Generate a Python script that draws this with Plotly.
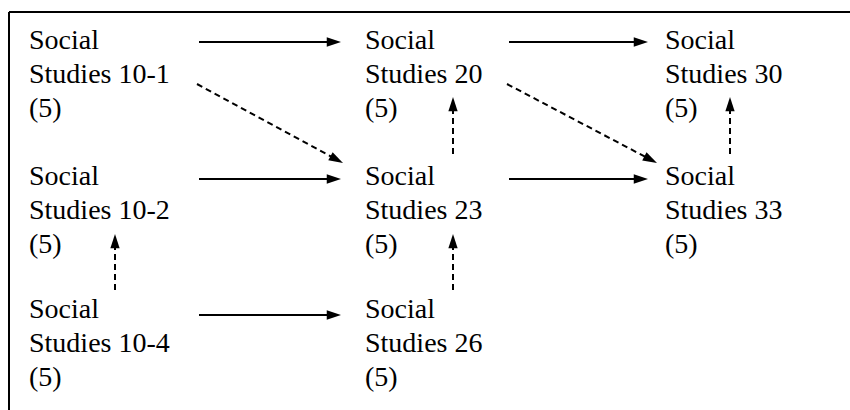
import plotly.graph_objects as go

# ---- data -------------------------------------------------------------
subject = "Social Studies"
course_codes = ["10-1", "10-2", "10-4", "20", "23", "26", "30", "33"]
course_credits = [5, 5, 5, 5, 5, 5, 5, 5]
grid_col = [0, 0, 0, 1, 1, 1, 2, 2]
grid_row = [0, 1, 2, 0, 1, 2, 0, 1]

# direct (solid) pathways
solid_from = ["10-1", "20", "10-2", "23", "10-4"]
solid_to = ["20", "30", "23", "33", "26"]
# transfer (dashed) pathways
dashed_from = ["10-1", "20", "10-4", "26", "23", "33"]
dashed_to = ["23", "33", "10-2", "23", "20", "30"]

# ---- layout geometry (pixels) -----------------------------------------
W, H = 850, 410
COL_X = [29, 365, 665]
ROW_BASE = [52, 188, 321]
LINE_GAP = 34
ROW_ARROW_Y = [42, 179, 315]
H_START = [199, 509]
H_END = [None, 341, 648]
V_X = [115, 453, 730]
DIAG_END_X = [None, 343, 657]
FONT = "'Times New Roman', 'Liberation Serif', serif"
FSIZE = 28

pos = {c: (grid_col[i], grid_row[i]) for i, c in enumerate(course_codes)}

fig = go.Figure()

# course labels
tx, ty, tt = [], [], []
for i, code in enumerate(course_codes):
    c, r = grid_col[i], grid_row[i]
    lines = subject.split(" ")[0], subject.split(" ")[1] + " " + code, f"({course_credits[i]})"
    for k, ln in enumerate(lines):
        tx.append(COL_X[c])
        ty.append(ROW_BASE[r] + k * LINE_GAP - 0.34 * FSIZE)
        tt.append(ln)
fig.add_trace(go.Scatter(
    x=tx, y=ty, text=tt, mode="text", textposition="middle right",
    textfont=dict(family=FONT, size=FSIZE, color="black"),
    hoverinfo="skip", showlegend=False, cliponaxis=False))


def arrow(x0, y0, x1, y1, dash):
    fig.add_trace(go.Scatter(
        x=[x0, x1], y=[y0, y1], mode="lines+markers",
        line=dict(color="#000000", width=2, dash=dash),
        marker=dict(symbol="arrow", angleref="previous", size=[0, 15],
                    color="#000000", opacity=1, line=dict(width=0)),
        opacity=1,
        hoverinfo="skip", showlegend=False, cliponaxis=False))


for a, b in zip(solid_from, solid_to):
    (ca, ra), (cb, rb) = pos[a], pos[b]
    arrow(H_START[ca], ROW_ARROW_Y[ra], H_END[cb], ROW_ARROW_Y[rb], "solid")

for a, b in zip(dashed_from, dashed_to):
    (ca, ra), (cb, rb) = pos[a], pos[b]
    if ca == cb:  # vertical move up
        arrow(V_X[ca], ROW_ARROW_Y[ra] - 25, V_X[cb], ROW_ARROW_Y[rb] + 55, "6px,4px")
    else:  # diagonal move
        arrow(H_START[ca] - 2, ROW_ARROW_Y[ra] + 42, DIAG_END_X[cb],
              ROW_ARROW_Y[rb] - 16, "6px,4px")

# frame (top and left edges visible)
fig.add_shape(type="line", xref="x", yref="y", x0=9, y0=12, x1=W, y1=12,
              line=dict(color="black", width=2))
fig.add_shape(type="line", xref="x", yref="y", x0=9, y0=12, x1=9, y1=H,
              line=dict(color="black", width=2))

fig.update_layout(
    width=W, height=H, margin=dict(l=0, r=0, t=0, b=0),
    paper_bgcolor="white", plot_bgcolor="white",
    xaxis=dict(range=[0, W], visible=False, fixedrange=True),
    yaxis=dict(range=[H, 0], visible=False, fixedrange=True),
)
fig.write_html("out.html", config={"displayModeBar": False},
               post_script="document.body.style.margin='0';document.body.style.overflow='hidden';")
